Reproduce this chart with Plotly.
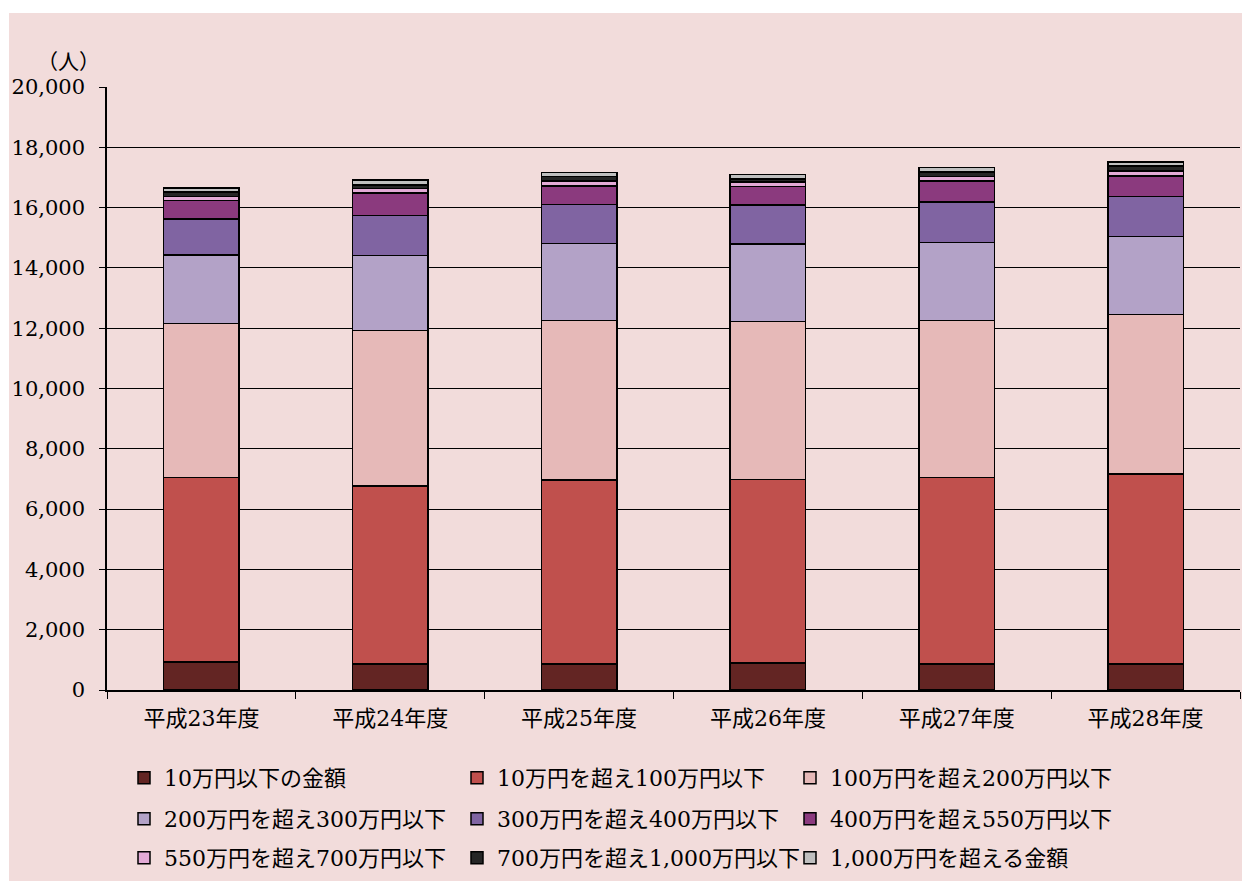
import plotly.graph_objects as go

categories = ["平成23年度", "平成24年度", "平成25年度", "平成26年度", "平成27年度", "平成28年度"]
series_names = [
    "10万円以下の金額",
    "10万円を超え100万円以下",
    "100万円を超え200万円以下",
    "200万円を超え300万円以下",
    "300万円を超え400万円以下",
    "400万円を超え550万円以下",
    "550万円を超え700万円以下",
    "700万円を超え1,000万円以下",
    "1,000万円を超える金額",
]
s1 = [930, 860, 860, 900, 860, 860]
s2 = [6110, 5910, 6110, 6080, 6180, 6310]
s3 = [5120, 5150, 5280, 5250, 5220, 5280]
s4 = [2260, 2490, 2560, 2560, 2590, 2590]
s5 = [1200, 1330, 1300, 1300, 1330, 1330]
s6 = [610, 750, 610, 610, 710, 675]
s7 = [145, 145, 165, 145, 145, 165]
s8 = [135, 110, 145, 110, 150, 165]
s9 = [140, 165, 135, 135, 145, 145]
series_values = [s1, s2, s3, s4, s5, s6, s7, s8, s9]
colors = ["#632523", "#C0504D", "#E6B9B8", "#B3A2C7", "#8064A2",
          "#8B3A7E", "#E3AAD6", "#262626", "#BFBFBF"]
y_ticks = [0, 2000, 4000, 6000, 8000, 10000, 12000, 14000, 16000, 18000, 20000]

FONT = "DejaVu Serif, Noto Sans CJK JP, serif"

W, H = 1250, 881
# figure coordinates (page has 8px body margin)
L, R, T, B = 99, 18, 79, 199
pw = W - L - R
ph = H - T - B

legend_ids = ["legend", "legend", "legend",
              "legend2", "legend2", "legend2",
              "legend3", "legend3", "legend3"]

fig = go.Figure()
for name, vals, col, lg in zip(series_names, series_values, colors, legend_ids):
    fig.add_trace(go.Bar(
        x=categories, y=vals, name=name, legend=lg,
        marker=dict(color=col, line=dict(color="#000000", width=1.5)),
        width=0.4,
    ))

fig.add_shape(type="rect", xref="paper", yref="paper",
              x0=(1 - L) / pw, x1=(W + 5 - L) / pw,
              y0=(H - (H + 5) - B) / ph, y1=(H - 5 - B) / ph,
              fillcolor="#F2DCDB", line=dict(width=0), layer="below")

fig.add_annotation(text="（人）", xref="paper", yref="paper",
                   x=(60 - L) / pw, y=(H - 52 - B) / ph,
                   xanchor="center", yanchor="middle",
                   showarrow=False,
                   font=dict(size=21, family="Noto Sans CJK JP", color="#000"))

def fy(y):
    return (H - B - y) / ph

legend_common = dict(
    orientation="h", traceorder="normal",
    x=(116 - L) / pw, xanchor="left", yanchor="middle",
    entrywidth=288, entrywidthmode="pixels",
    font=dict(size=22, family=FONT, color="#000"),
    bgcolor="rgba(0,0,0,0)",
    itemwidth=30,
)

fig.update_layout(
    width=W, height=H,
    barmode="stack",
    paper_bgcolor="#FFFFFF",
    plot_bgcolor="#FFFFFF",
    margin=dict(l=L, r=R, t=T, b=B, autoexpand=False),
    font=dict(family=FONT, size=19, color="#000000"),
    showlegend=True,
    legend=dict(legend_common, y=fy(770)),
    legend2=dict(legend_common, y=fy(811)),
    legend3=dict(legend_common, y=fy(850)),
    xaxis=dict(
        automargin=False,
        showline=True, linecolor="#000", linewidth=1.5,
        ticks="outside", ticklen=7, tickcolor="#000", tickson="boundaries",
        tickfont=dict(size=22, family=FONT),
        ticklabelstandoff=8,
        showgrid=False,
    ),
    yaxis=dict(
        automargin=False,
        range=[0, 20000], tickvals=y_ticks,
        tickformat=",d",
        showline=True, linecolor="#000", linewidth=1.5,
        ticks="outside", ticklen=6, tickcolor="#000",
        showgrid=True, gridcolor="#000", gridwidth=1.2,
        tickfont=dict(size=21, family=FONT),
        ticklabelstandoff=10,
        zeroline=False,
    ),
)

fig.write_html("out.html")
